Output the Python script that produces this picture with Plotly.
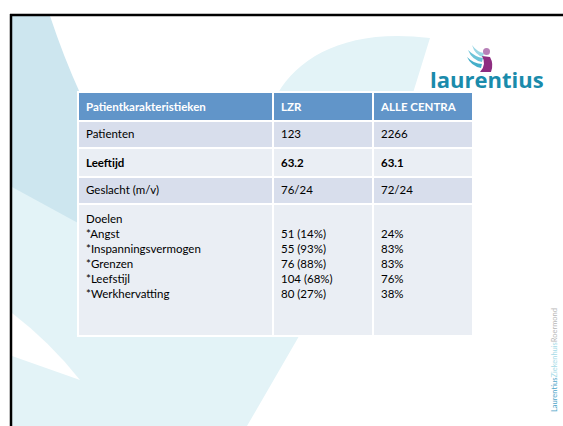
import plotly.graph_objects as go

W, H = 563, 426

# ---- data ----
header = ["Patientkarakteristieken", "LZR", "ALLE CENTRA"]
characteristics = ["Patienten", "Leeftijd", "Geslacht (m/v)"]
lzr_values = ["123", "63.2", "76/24"]
alle_values = ["2266", "63.1", "72/24"]
bold_rows = ["Leeftijd"]
doelen_title = "Doelen"
doelen_labels = ["Angst", "Inspanningsvermogen", "Grenzen", "Leefstijl", "Werkhervatting"]
doelen_lzr_n = [51, 55, 76, 104, 80]
doelen_lzr_pct = [14, 93, 88, 68, 27]
doelen_alle_pct = [24, 83, 83, 76, 38]
logo_text = "laurentius"
footer_parts = [("Laurentius", "#4FA6C9"), ("Ziekenhuis", "#A6DBE7"), ("Roermond", "#B8B8B8")]

# ---- build cell columns ----
def fmt(row, txt):
    return f"<b>{txt}</b>" if row in bold_rows else txt

col1 = [fmt(r, r) for r in characteristics]
col2 = [fmt(r, v) for r, v in zip(characteristics, lzr_values)]
col3 = [fmt(r, v) for r, v in zip(characteristics, alle_values)]
BLANK = "&nbsp;"
SMALL = '<span style="font-size:2px">&nbsp;</span>'
col1.append("<br>".join([doelen_title] + ["*" + l for l in doelen_labels] + [BLANK, SMALL]))
col2.append("<br>".join([BLANK] + [f"{n} ({p}%)" for n, p in zip(doelen_lzr_n, doelen_lzr_pct)] + [BLANK, SMALL]))
col3.append("<br>".join([BLANK] + [f"{p}%" for p in doelen_alle_pct] + [BLANK, SMALL]))

row_fill = ["#D8DEEC", "#EAEEF4", "#D8DEEC", "#EAEEF4"]

def px(x):
    return x / W

def py(y):
    return 1 - y / H

def path(cmds):
    out = []
    for c in cmds:
        if isinstance(c, str):
            out.append(c)
        else:
            out.append(f"{px(c[0]):.5f},{py(c[1]):.5f}")
    return " ".join(out)

fig = go.Figure()

fig.add_trace(go.Table(
    domain=dict(x=[px(78), px(473)], y=[0, py(92)]),
    columnwidth=[195, 100, 100],
    header=dict(
        values=[f"<b>{h}</b>" for h in header],
        fill_color="#6195C9",
        line=dict(color="white", width=2),
        font=dict(family="Lato", size=11.5, color="white"),
        align="left",
        height=25,
    ),
    cells=dict(
        values=[col1, col2, col3],
        fill_color=[row_fill] * 3,
        line=dict(color="white", width=2),
        font=dict(family="Lato", size=11.5, color="black"),
        align="left",
        height=27,
    ),
))

shapes = []
# light background swoosh
shapes.append(dict(type="path", xref="paper", yref="paper", layer="below",
    path=path(["M", (278, 93), "C", (300, 55), (350, 28), (430, 38), "L", (413, 93), "L", (302, 331),
               "L", (247, 426), "L", (12, 426), "L", (12, 180), "L", (150, 150), "Z"]),
    fillcolor="#E3F3F7", line=dict(width=0)))
# darker left swoosh
shapes.append(dict(type="path", xref="paper", yref="paper", layer="below",
    path=path(["M", (12, 16), "L", (50, 16), "Q", (64, 58), (80, 93), "L", (120, 200), "L", (78, 223),
               "L", (12, 187), "Z"]),
    fillcolor="#CDE6EF", line=dict(width=0)))
# white wedge
shapes.append(dict(type="path", xref="paper", yref="paper", layer="below",
    path=path(["M", (12, 313), "Q", (50, 342), (80, 380), "L", (12, 356), "Z"]),
    fillcolor="#FFFFFF", line=dict(width=0)))
# frame lines
shapes.append(dict(type="line", xref="paper", yref="paper", layer="below",
    x0=px(10), x1=1, y0=py(15), y1=py(15), line=dict(color="black", width=2.5)))
shapes.append(dict(type="line", xref="paper", yref="paper", layer="below",
    x0=px(11), x1=px(11), y0=py(14), y1=0, line=dict(color="black", width=2.5)))
# logo icon: wings
shapes.append(dict(type="path", xref="paper", yref="paper",
    path=path(["M", (468, 50), "Q", (475, 57), (483, 58), "L", (482, 62), "Q", (472, 60), (468, 50), "Z"]),
    fillcolor="#6CC3D8", line=dict(width=0)))
shapes.append(dict(type="path", xref="paper", yref="paper",
    path=path(["M", (472, 45), "Q", (477, 52), (484, 53), "L", (483, 57), "Q", (475, 55), (472, 45), "Z"]),
    fillcolor="#9AD7E5", line=dict(width=0)))
shapes.append(dict(type="path", xref="paper", yref="paper",
    path=path(["M", (467, 57), "Q", (474, 64), (482, 64), "L", (481, 68), "Q", (471, 66), (467, 57), "Z"]),
    fillcolor="#45AFCA", line=dict(width=0)))
# logo icon: body
shapes.append(dict(type="path", xref="paper", yref="paper",
    path=path(["M", (482, 56), "L", (490, 57), "Q", (494, 64), (491, 72), "L", (480, 72), "Q", (487, 65), (482, 56), "Z"]),
    fillcolor="#8E2D80", line=dict(width=0)))
shapes.append(dict(type="circle", xref="paper", yref="paper",
    x0=px(483), x1=px(490), y0=py(48), y1=py(55),
    fillcolor="#B780B8", line=dict(width=0)))

annotations = [
    dict(xref="paper", yref="paper", x=px(428), y=py(79), xanchor="left", yanchor="middle",
         text=f"<b>{logo_text}</b>", showarrow=False,
         font=dict(family="Open Sans", size=22, color="#1A8BAB")),
    dict(xref="paper", yref="paper", x=px(554), y=py(360), xanchor="center", yanchor="middle",
         textangle=-90, showarrow=False,
         text="".join(f'<span style="color:{c}">{t}</span>' for t, c in footer_parts),
         font=dict(family="Lato", size=7.5, color="#B8B8B8")),
]

fig.update_layout(
    width=W, height=H,
    margin=dict(l=0, r=0, t=0, b=0),
    paper_bgcolor="white", plot_bgcolor="white",
    shapes=shapes, annotations=annotations,
    showlegend=False,
)

fig.write_html("out.html", config={"displayModeBar": False},
               post_script="document.body.style.margin='0px';document.body.style.overflow='hidden';")
